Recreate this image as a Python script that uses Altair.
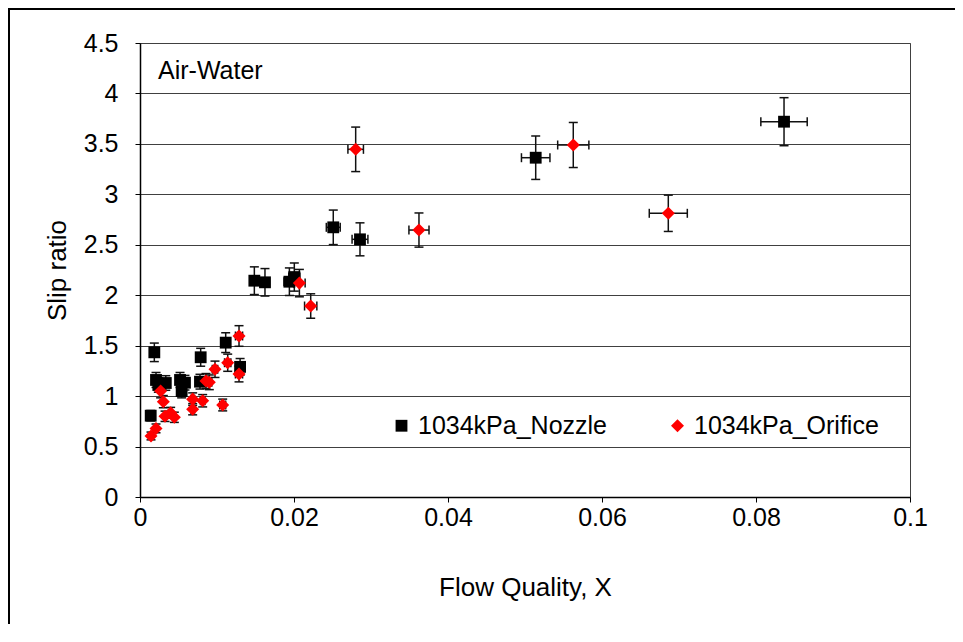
import altair as alt
import pandas as pd

series_names = ["1034kPa_Nozzle", "1034kPa_Orifice"]

nozzle_x = [0.00139, 0.00186, 0.00208, 0.00238, 0.00335, 0.0052, 0.00541, 0.00584,
            0.00788, 0.00779, 0.01113, 0.0130, 0.01485, 0.01623, 0.0194, 0.02004,
            0.0251, 0.02857, 0.05139, 0.08364]
nozzle_y = [0.806, 1.434, 1.16, 1.11, 1.13, 1.16, 1.05, 1.133,
            1.385, 1.143, 1.53, 1.29, 2.144, 2.128, 2.134, 2.18,
            2.673, 2.554, 3.363, 3.72]

orifice_x = [0.00143, 0.00208, 0.00268, 0.00303, 0.00325, 0.00398, 0.00446, 0.00684,
             0.00684, 0.00814, 0.00857, 0.0090, 0.00974, 0.01074, 0.01139, 0.01286,
             0.01286, 0.0207, 0.02217, 0.02801, 0.03623, 0.05627, 0.06861]
orifice_y = [0.605, 0.68, 1.05, 0.945, 0.80, 0.835, 0.79, 0.97,
             0.87, 0.954, 1.15, 1.137, 1.266, 0.912, 1.331, 1.596,
             1.219, 2.12, 1.893, 3.446, 2.646, 3.489, 2.812]

# relative uncertainty (percentage error bars)
x_err_rel = 0.036
y_err_rel = 0.064

x_ticks = [0, 0.02, 0.04, 0.06, 0.08, 0.1]
y_ticks = [0, 0.5, 1, 1.5, 2, 2.5, 3, 3.5, 4, 4.5]

df = pd.concat([
    pd.DataFrame({"x": nozzle_x, "y": nozzle_y, "series": series_names[0]}),
    pd.DataFrame({"x": orifice_x, "y": orifice_y, "series": series_names[1]}),
], ignore_index=True)
df["xlo"] = df["x"] * (1 - x_err_rel)
df["xhi"] = df["x"] * (1 + x_err_rel)
df["ylo"] = df["y"] * (1 - y_err_rel)
df["yhi"] = df["y"] * (1 + y_err_rel)

FONT = "Liberation Sans"
LFS = 25
TFS = 26

xs = alt.Scale(domain=[0, 0.1], nice=False, zero=True)
ys = alt.Scale(domain=[0, 4.5], nice=False, zero=True)

common_axis = dict(labelFont=FONT, titleFont=FONT, labelFontSize=LFS, titleFontSize=TFS,
                   titleFontWeight="normal", labelColor="#000000", titleColor="#000000",
                   labelFlush=False, labelOverlap=False,
                   domainColor="#000000", domainWidth=1.5, tickColor="#000000", tickSize=5)

x_axis = alt.Axis(values=x_ticks, format=".2~f", title="Flow Quality, X", grid=False,
                  labelPadding=3, titlePadding=44, **common_axis)
y_axis = alt.Axis(values=y_ticks, format=".1~f", title="Slip ratio", grid=True,
                  gridColor="#404040", gridWidth=1, gridOpacity=1,
                  labelPadding=17, titlePadding=13, **common_axis)


def X(field):
    return alt.X(field, type="quantitative", scale=xs, axis=x_axis)


def Y(field):
    return alt.Y(field, type="quantitative", scale=ys, axis=y_axis)


base = alt.Chart(df)
EB = "#111111"
EW = 1.5
CAP = 4.5

vbars = base.mark_rule(color=EB, strokeWidth=EW).encode(x=X("x"), y=Y("ylo"), y2="yhi")
hbars = base.mark_rule(color=EB, strokeWidth=EW).encode(x=X("xlo"), x2="xhi", y=Y("y"))
cap_ylo = base.mark_rule(color=EB, strokeWidth=EW, xOffset=-CAP, x2Offset=CAP).encode(
    x=X("x"), x2="x", y=Y("ylo"))
cap_yhi = base.mark_rule(color=EB, strokeWidth=EW, xOffset=-CAP, x2Offset=CAP).encode(
    x=X("x"), x2="x", y=Y("yhi"))
cap_xlo = base.mark_rule(color=EB, strokeWidth=EW, yOffset=-CAP, y2Offset=CAP).encode(
    x=X("xlo"), y=Y("y"), y2="y")
cap_xhi = base.mark_rule(color=EB, strokeWidth=EW, yOffset=-CAP, y2Offset=CAP).encode(
    x=X("xhi"), y=Y("y"), y2="y")

legend = alt.Legend(title=None, orient="none", legendX=249, legendY=370,
                    direction="horizontal", labelFontSize=LFS, labelFont=FONT,
                    labelColor="#000000", symbolSize=85, symbolStrokeWidth=0,
                    labelOffset=4, columnPadding=57, padding=0, labelLimit=500)

points = base.mark_point(filled=True, opacity=1, strokeWidth=0).encode(
    x=X("x"), y=Y("y"),
    color=alt.Color("series:N", scale=alt.Scale(domain=series_names, range=["#000000", "#ff0000"]),
                    legend=legend),
    shape=alt.Shape("series:N", scale=alt.Scale(domain=series_names, range=["square", "diamond"]),
                    legend=legend),
    size=alt.Size("series:N", scale=alt.Scale(domain=series_names, range=[140, 170]), legend=None),
)

note = alt.Chart(pd.DataFrame({"label": ["Air-Water"]})).mark_text(
    align="left", baseline="alphabetic", font=FONT, fontSize=25, color="#000000"
).encode(x=alt.value(18), y=alt.value(36), text="label:N")

frame_df = pd.DataFrame({"k": [0]})
border_left = alt.Chart(frame_df).mark_rule(color="#000000", strokeWidth=2).encode(
    x=alt.value(-131), y=alt.value(-34), y2=alt.value(581))
border_top = alt.Chart(frame_df).mark_rule(color="#000000", strokeWidth=2).encode(
    x=alt.value(-132), x2=alt.value(815), y=alt.value(-34))

chart = alt.layer(vbars, hbars, cap_ylo, cap_yhi, cap_xlo, cap_xhi, points, note,
                  border_left, border_top).properties(
    width=770, height=454,
    background="#ffffff",
    autosize=alt.AutoSizeParams(type="none"),
    padding={"left": 132, "top": 35, "right": 45, "bottom": 127},
).configure_view(
    stroke="#404040", strokeWidth=1
)

chart.save("out.html", embed_options={"renderer": "svg", "actions": False})
